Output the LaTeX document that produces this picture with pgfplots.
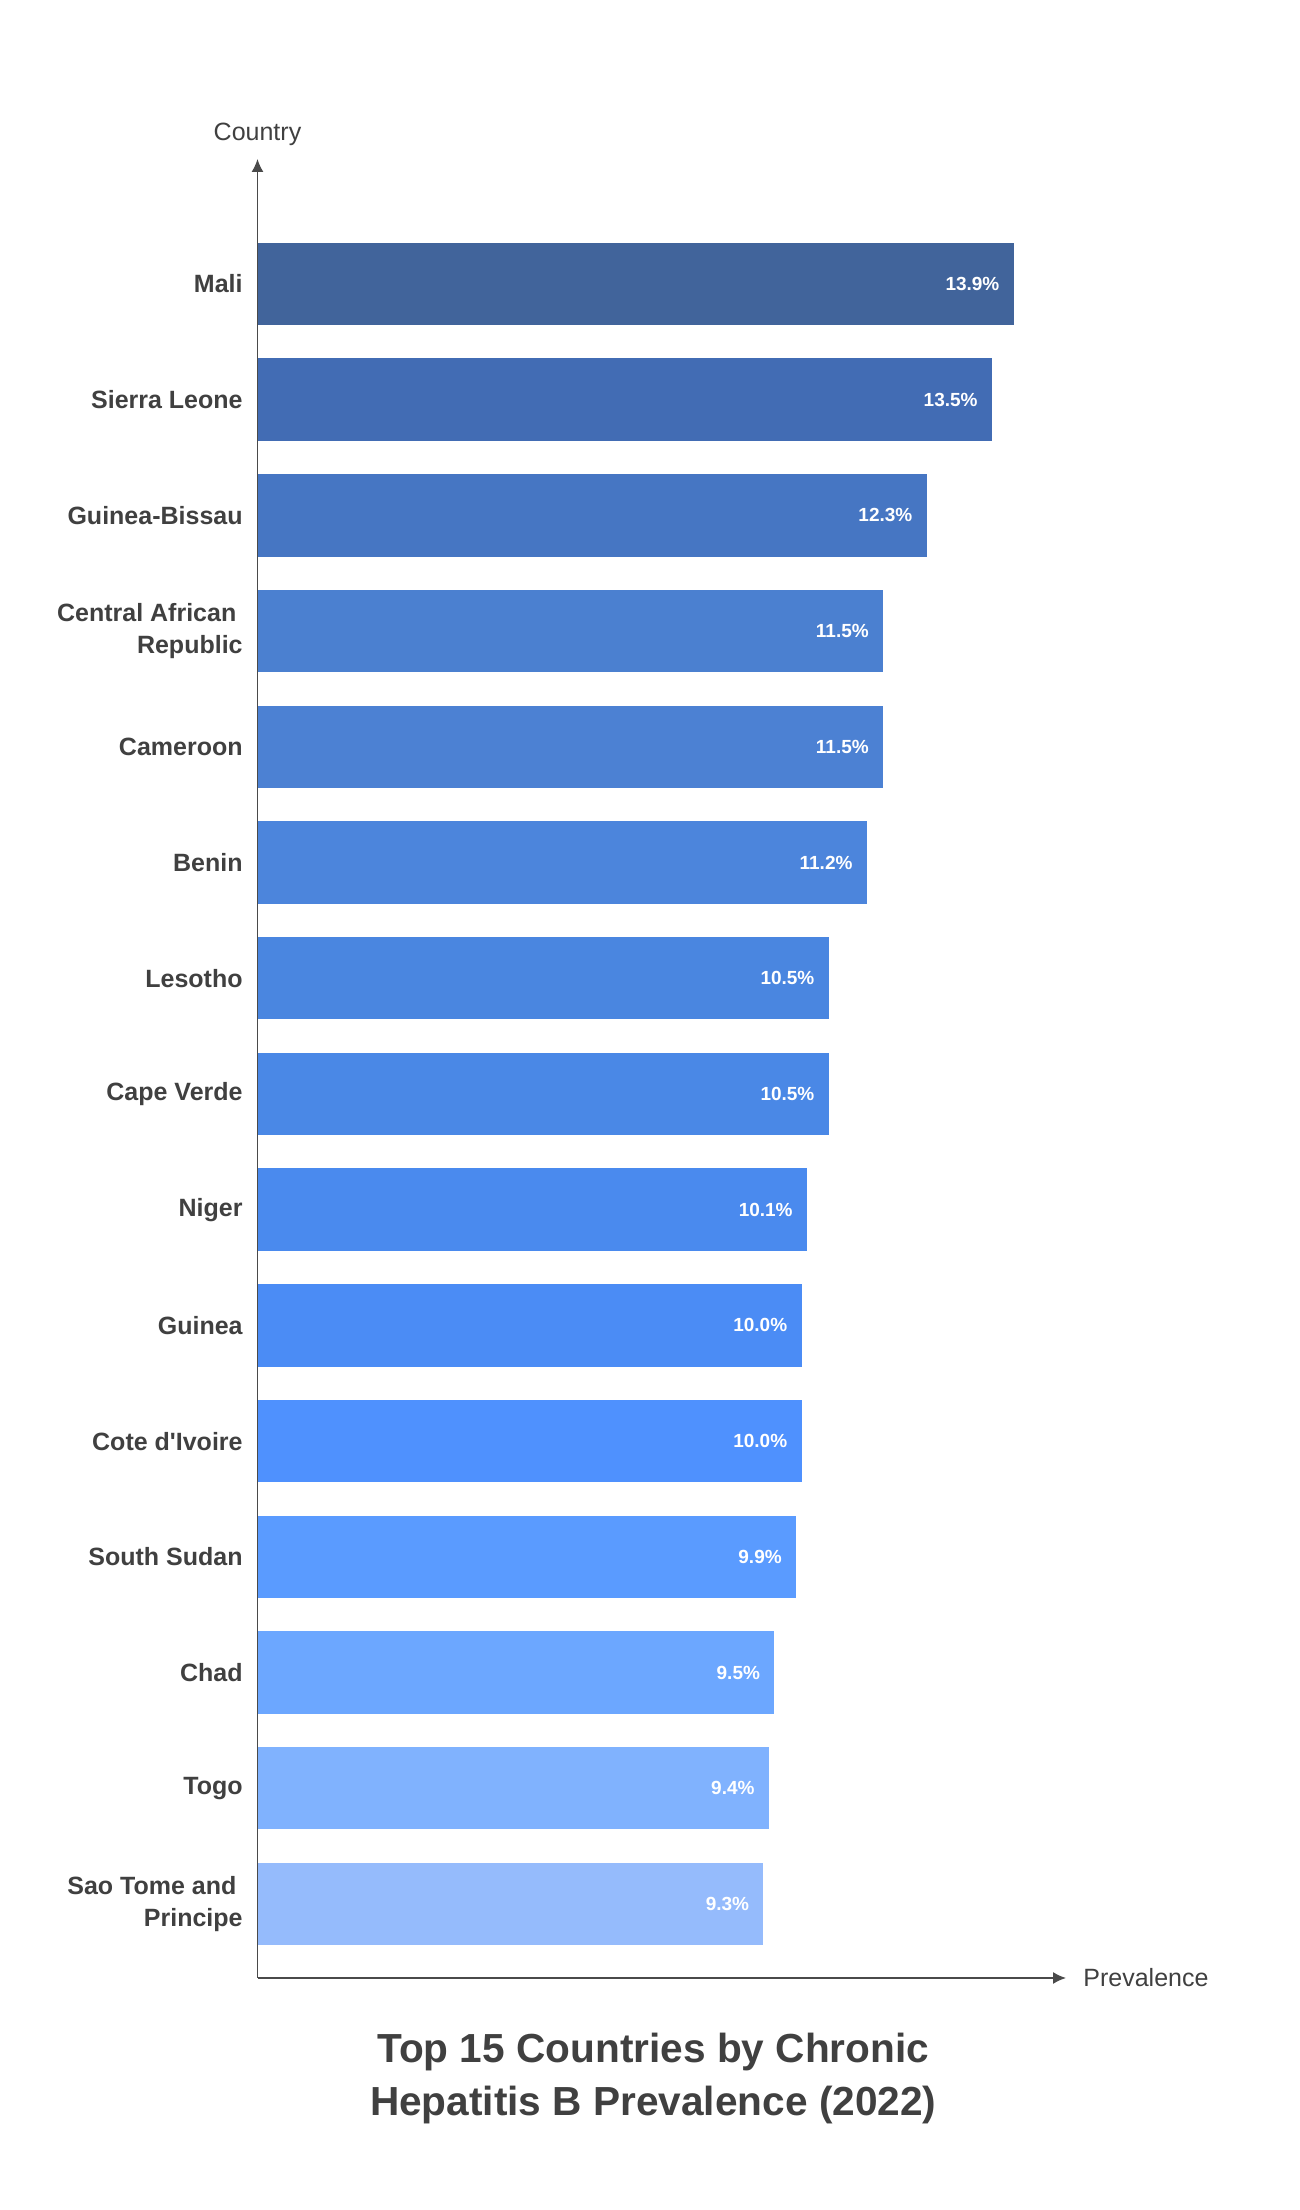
\documentclass[border=0pt]{standalone}
\usepackage{fontspec}
\setmainfont{Liberation Sans}
\usepackage{pgfplots}
\pgfplotsset{compat=1.18}
\usetikzlibrary{arrows.meta}
\definecolor{txt}{HTML}{404040}
\definecolor{axc}{HTML}{4A4A4A}
\definecolor{c14}{HTML}{41649B}
\definecolor{c13}{HTML}{426CB4}
\definecolor{c12}{HTML}{4676C3}
\definecolor{c11}{HTML}{4B80D0}
\definecolor{c10}{HTML}{4C81D3}
\definecolor{c9}{HTML}{4C85DC}
\definecolor{c8}{HTML}{4A86E0}
\definecolor{c7}{HTML}{4A88E6}
\definecolor{c6}{HTML}{4A8AEE}
\definecolor{c5}{HTML}{4B8CF5}
\definecolor{c4}{HTML}{4F91FE}
\definecolor{c3}{HTML}{5A9BFF}
\definecolor{c2}{HTML}{6CA7FF}
\definecolor{c1}{HTML}{80B2FE}
\definecolor{c0}{HTML}{95BBFC}
\begin{document}
\begin{tikzpicture}
\path[use as bounding box] (0pt,0pt) rectangle (650pt,1105pt);
\begin{axis}[
  at={(128.75pt,116pt)}, anchor=south west,
  scale only axis, width=404.25pt, height=909.5pt,
  xmin=0, xmax=14.86, ymin=-0.64, ymax=15.08,
  xbar, bar shift=0pt, bar width=0.713,
  axis lines=left,
  axis line style={draw=axc, line width=0.75pt},
  x axis line style={-{Latex[length=6.5pt,width=6pt]}},
  y axis line style={-{Latex[length=6.5pt,width=6pt]}},
  xtick=\empty,
  ytick={0,1,2,3,4,5,6,7,8,9,10,11,12,13,14},
  yticklabels={{Sao Tome and\hspace*{0.25em}\\Principe},Togo,Chad,South Sudan,Cote d\textquotesingle Ivoire,Guinea,Niger,Cape Verde,Lesotho,Benin,Cameroon,{Central African\hspace*{0.25em}\\Republic},Guinea-Bissau,Sierra Leone,Mali},
  major tick length=0pt,
  yticklabel style={font=\fontsize{12.5}{16}\selectfont\bfseries, text=txt, align=right, inner sep=0pt, xshift=-7.25pt},
  xlabel={Prevalence},
  ylabel={Country},
  xlabel style={font=\fontsize{12.5}{15}\selectfont, text=txt, at={(axis description cs:1,0)}, anchor=west, xshift=8.5pt, inner sep=0pt},
  ylabel style={font=\fontsize{12.5}{15}\selectfont, text=txt, rotate=-90, at={(axis description cs:0,1)}, anchor=base, yshift=9pt, inner sep=0pt},
  /pgf/number format/assume math mode=true,
  point meta=x,
  nodes near coords={\pgfmathprintnumber[fixed,fixed zerofill,precision=1]{\pgfplotspointmeta}\%},
  every node near coord/.append style={anchor=east, inner sep=0pt, xshift=-7pt, text=white, font=\fontsize{9.5}{11}\selectfont\bfseries},
  clip=false,
]
\addplot[fill=c14, draw=none] coordinates {(13.9,14)};
\addplot[fill=c13, draw=none] coordinates {(13.5,13)};
\addplot[fill=c12, draw=none] coordinates {(12.3,12)};
\addplot[fill=c11, draw=none] coordinates {(11.5,11)};
\addplot[fill=c10, draw=none] coordinates {(11.5,10)};
\addplot[fill=c9, draw=none] coordinates {(11.2,9)};
\addplot[fill=c8, draw=none] coordinates {(10.5,8)};
\addplot[fill=c7, draw=none] coordinates {(10.5,7)};
\addplot[fill=c6, draw=none] coordinates {(10.1,6)};
\addplot[fill=c5, draw=none] coordinates {(10.0,5)};
\addplot[fill=c4, draw=none] coordinates {(10.0,4)};
\addplot[fill=c3, draw=none] coordinates {(9.9,3)};
\addplot[fill=c2, draw=none] coordinates {(9.5,2)};
\addplot[fill=c1, draw=none] coordinates {(9.4,1)};
\addplot[fill=c0, draw=none] coordinates {(9.3,0)};
\node[font=\fontsize{20.3}{26.5}\selectfont\bfseries, text=txt, align=center] at (axis description cs:0.4895,-0.0555) {Top 15 Countries by Chronic\\Hepatitis B Prevalence (2022)};
\end{axis}
\end{tikzpicture}
\end{document}
